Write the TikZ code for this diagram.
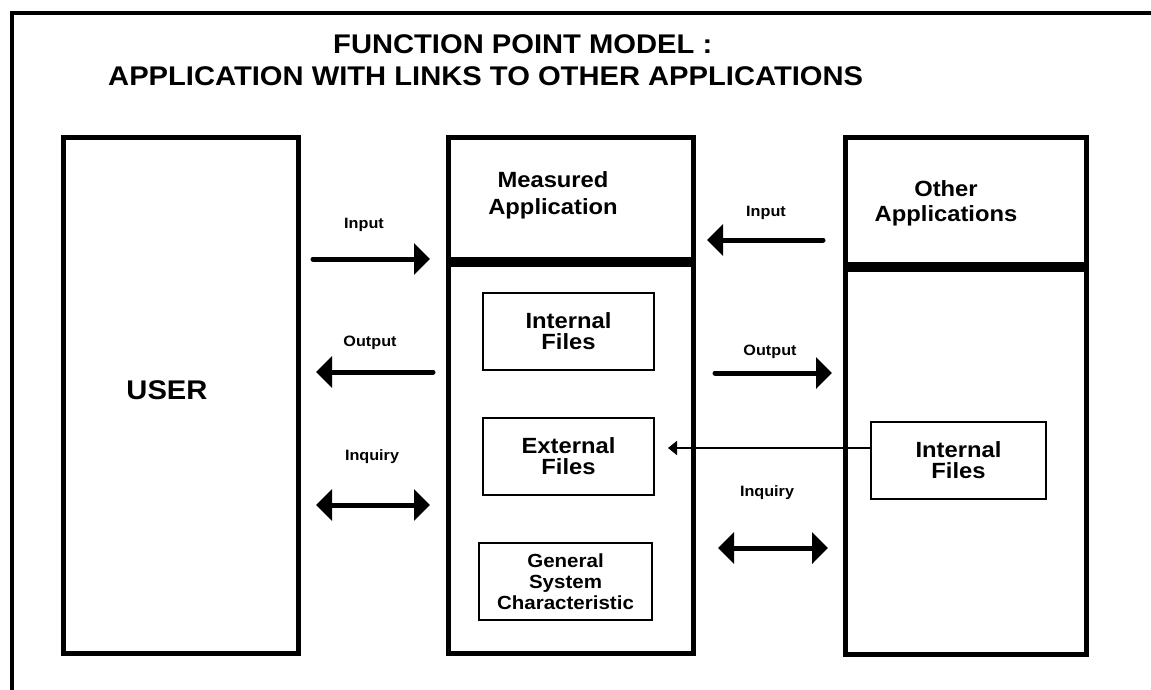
\documentclass[tikz,border=0pt]{standalone}
\usepackage{fontspec}
\setmainfont{Liberation Sans}[FakeStretch=1.08]
\usetikzlibrary{arrows.meta}
\begin{document}
\begin{tikzpicture}[x=1pt,y=-1pt,
  bigbox/.style={draw,line width=5pt,inner sep=0pt,outer sep=0pt},
  filebox/.style={draw,line width=1.8pt,inner sep=0pt,outer sep=0pt,align=center,
    font=\bfseries\fontsize{22}{21}\selectfont},
  head/.style={align=center,font=\bfseries\fontsize{22}{27}\selectfont},
  flowlbl/.style={font=\bfseries\fontsize{15}{15}\selectfont},
  fat/.style={line width=5pt,line cap=round,-{Triangle[length=16pt,width=31pt]}},
  fatboth/.style={line width=5pt,{Triangle[length=16pt,width=31pt]}-{Triangle[length=16pt,width=31pt]}},
  slim/.style={line width=1.5pt,-{Triangle[length=9pt,width=14pt]}},
  divider/.style={line width=10pt}]

\useasboundingbox (0,0) rectangle (1151,690);

% page frame: top and left rules
\draw[line width=4.5pt] (12,690) -- (12,13) -- (1151,13);

% title
\node[anchor=base west,inner sep=0pt,font=\bfseries\fontsize{27}{27}\selectfont] (t1) at (333,54) {FUNCTION POINT MODEL :};
\node[anchor=base west,inner sep=0pt,font=\bfseries\fontsize{27}{27}\selectfont] (t2) at (108,86) {APPLICATION WITH LINKS TO OTHER APPLICATIONS};

% main boxes
\node[bigbox,minimum width=235pt,minimum height=515pt] (user) at (180.5,395.5) {};
\node[bigbox,minimum width=245pt,minimum height=515pt] (meas) at (570.5,395.5) {};
\node[bigbox,minimum width=241pt,minimum height=516pt] (other) at (965.5,396) {};

\node[font=\bfseries\fontsize{27}{27}\selectfont] (usertxt) at (167,390) {USER};
\node[head] (meastxt) at (553,195) {Measured\\Application};
\node[head,font=\bfseries\fontsize{22}{25}\selectfont] (othertxt) at (946,203) {Other\\Applications};

% header dividers
\draw[divider] (meas.west |- 0,262) -- (meas.east |- 0,262);
\draw[divider,line cap=round] ([xshift=3pt]other.west |- 0,267) -- ([xshift=-3pt]other.east |- 0,267);

% file boxes
\node[filebox,minimum width=171pt,minimum height=77pt] (intm) at (568.5,331.5) {Internal\\Files};
\node[filebox,minimum width=171pt,minimum height=77pt] (extm) at (568.5,456.5) {External\\Files};
\node[filebox,minimum width=173pt,minimum height=77pt,font=\bfseries\fontsize{19}{21}\selectfont] (gsc) at (565.5,581.5) {General\\System\\Characteristic};
\node[filebox,minimum width=175pt,minimum height=77pt] (into) at (958.5,460.5) {Internal\\Files};

% flows between user and measured application
\draw[fat,shorten <=15pt,shorten >=18pt] (user.east |- 0,259) -- (meas.west |- 0,259);
\draw[fat,shorten <=15pt,shorten >=18pt] (meas.west |- 0,372) -- (user.east |- 0,372);
\draw[fatboth,shorten <=18pt,shorten >=18pt] (user.east |- 0,505) -- (meas.west |- 0,505);
\node[flowlbl] (lin1) at (364,225) {Input};
\node[flowlbl] (lout1) at (370,343) {Output};
\node[flowlbl] (linq1) at (372,457) {Inquiry};

% flows between measured and other applications
\draw[fat,shorten <=22pt,shorten >=14pt] (other.west |- 0,240) -- (meas.east |- 0,240);
\draw[fat,shorten <=22pt,shorten >=13pt] (meas.east |- 0,373) -- (other.west |- 0,373);
\draw[fatboth,shorten <=25pt,shorten >=17pt] (meas.east |- 0,548) -- (other.west |- 0,548);
\node[flowlbl] (lin2) at (766,213) {Input};
\node[flowlbl] (lout2) at (770,352) {Output};
\node[flowlbl] (linq2) at (767,493) {Inquiry};

% external file reference
\draw[slim,shorten >=14pt] (into.west |- 0,448) -- (extm.east |- 0,448);
\end{tikzpicture}
\end{document}
